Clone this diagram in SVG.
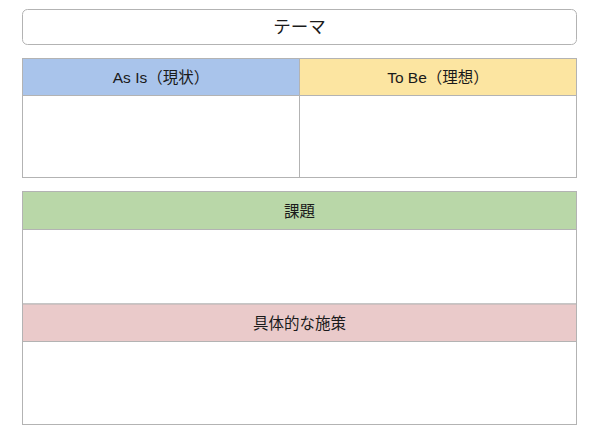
<svg xmlns="http://www.w3.org/2000/svg" width="600" height="439" viewBox="0 0 600 439">
<style>
.box{stroke:#b3b3b3;stroke-width:1}
.t{font-family:"Liberation Sans","Noto Sans CJK JP",sans-serif;fill:#1a1a1a;text-anchor:middle;dominant-baseline:central}
.h{font-size:15.5px}
</style>
<rect width="600" height="439" fill="#ffffff"/>
<g id="theme">
<rect class="box" x="22.5" y="9.5" width="554" height="35" rx="5" fill="#ffffff"/>
<text class="t" x="299.5" y="27" font-size="17.5">テーマ</text>
</g>
<g id="asis">
<rect class="box" x="22.5" y="58.5" width="277" height="37" fill="#a9c4eb"/>
<rect class="box" x="22.5" y="95.5" width="277" height="82" fill="#ffffff"/>
<text class="t h" x="161" y="77">As Is（現状）</text>
</g>
<g id="tobe">
<rect class="box" x="299.5" y="58.5" width="277" height="37" fill="#fce5a1"/>
<rect class="box" x="299.5" y="95.5" width="277" height="82" fill="#ffffff"/>
<text class="t h" x="438" y="77">To Be（理想）</text>
</g>
<g id="kadai">
<rect class="box" x="22.5" y="191.5" width="554" height="38" fill="#b9d7a8"/>
<rect class="box" x="22.5" y="229.5" width="554" height="74.5" fill="#ffffff"/>
<text class="t h" x="299.5" y="211">課題</text>
</g>
<g id="shisaku">
<rect class="box" x="22.5" y="304" width="554" height="37.5" fill="#eacaca"/>
<rect class="box" x="22.5" y="341.5" width="554" height="83" fill="#ffffff"/>
<text class="t h" x="299.5" y="323">具体的な施策</text>
</g>
<g id="connectors"></g>
</svg>
